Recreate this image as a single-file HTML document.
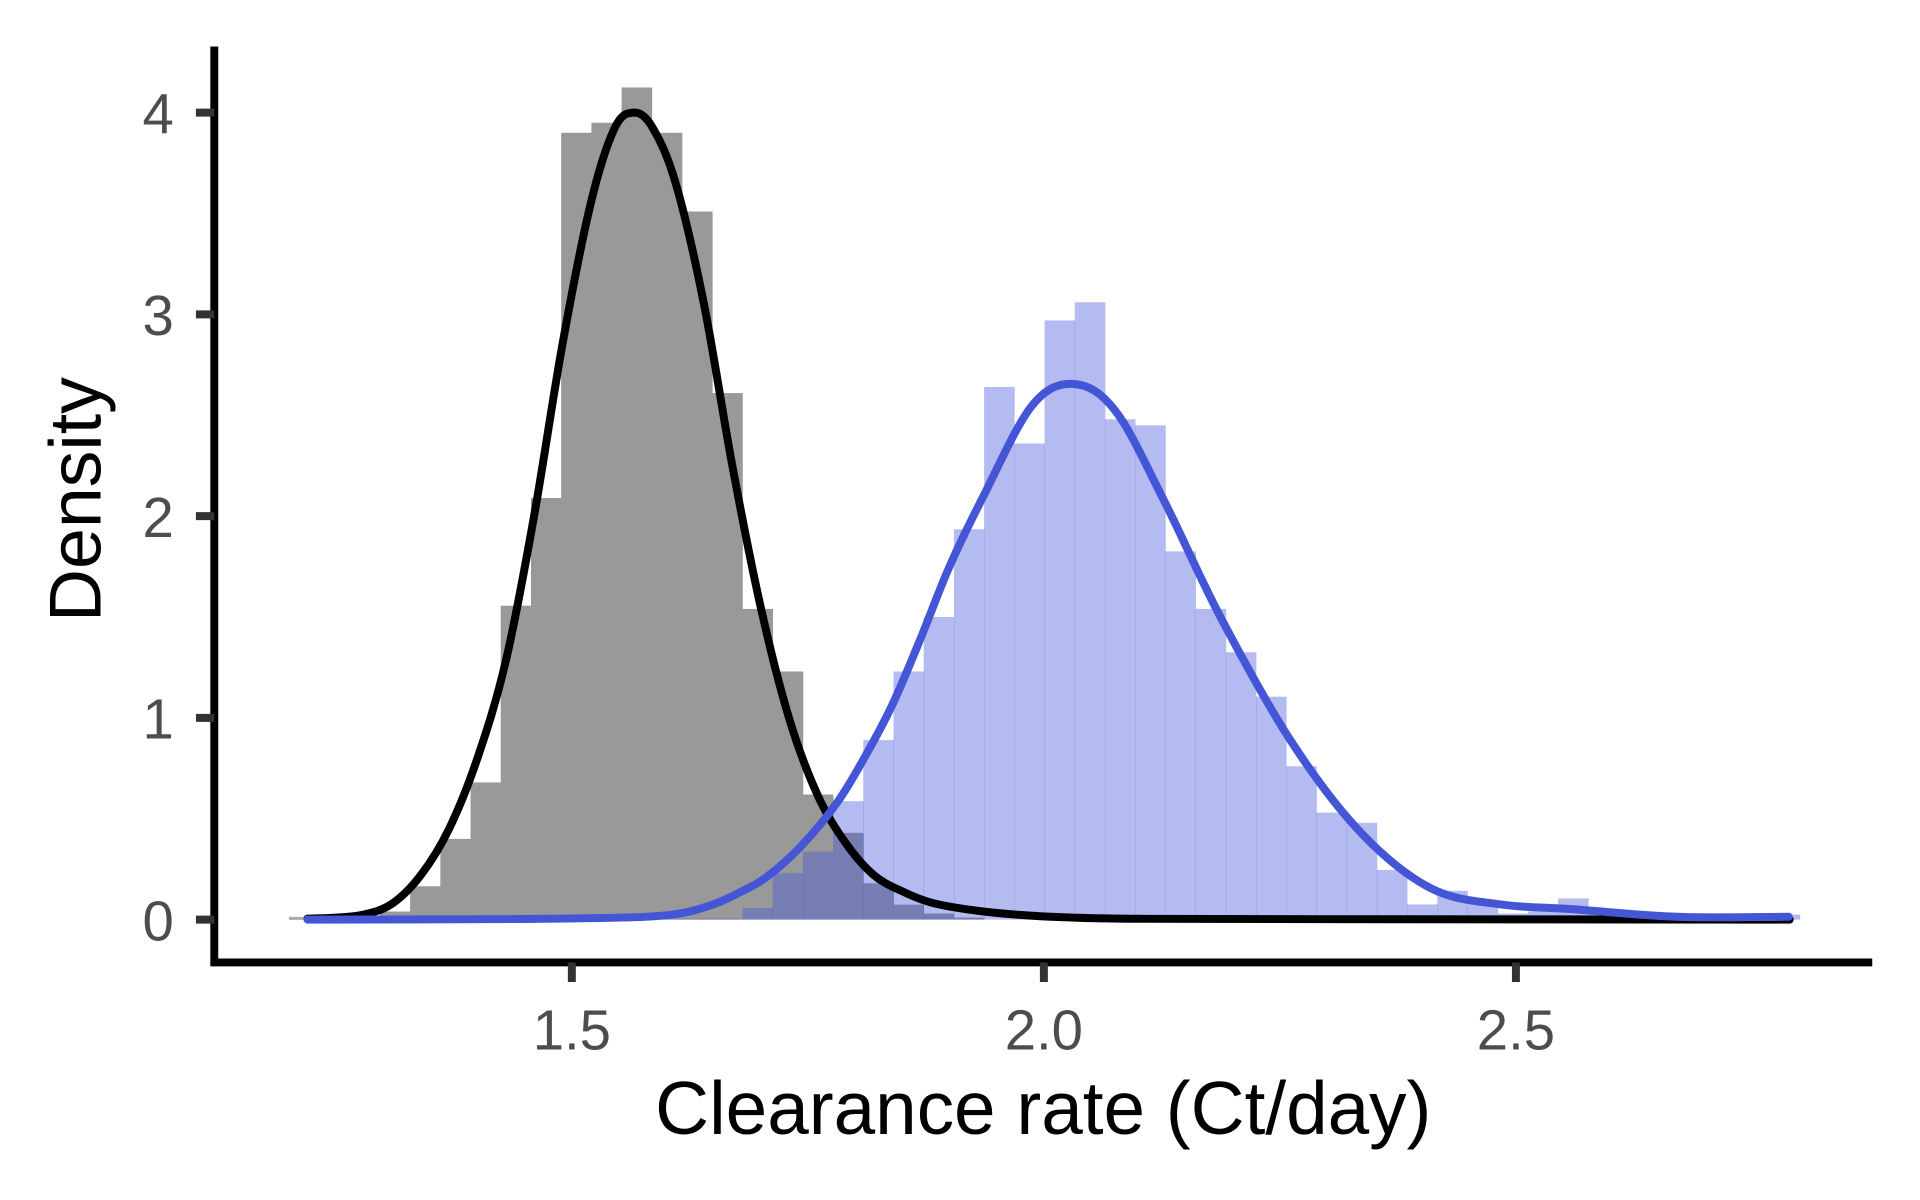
<!DOCTYPE html>
<html><head><meta charset="utf-8">
<style>
html,body{margin:0;padding:0;background:#fff;}
svg{display:block;}
text{font-family:"Liberation Sans",Arial,sans-serif;}
</style></head>
<body>
<svg id="chart" width="1920" height="1200" viewBox="0 0 1568 980" xmlns="http://www.w3.org/2000/svg">
  <line x1="236" y1="750" x2="252" y2="750" stroke="#aaa" stroke-width="2.5"/>
  <g id="bars"></g>
  <g id="curves"></g>
  <g id="axes">
    <line x1="175" y1="38" x2="175" y2="789" stroke="#000" stroke-width="6.5"/>
    <line x1="172" y1="786" x2="1529" y2="786" stroke="#000" stroke-width="6.5"/>
  </g>
  <g id="yticks"></g>
  <g id="xticks"></g>
  <text x="852" y="926" font-size="61" text-anchor="middle" fill="#000">Clearance rate (Ct/day)</text>
  <text x="0" y="0" font-size="60" text-anchor="middle" fill="#000" transform="translate(82,408) rotate(-90)">Density</text>
</svg>
<script>
const binStart = 1.2967;
const binWidth = 0.032;
const grayCounts = [0.04,0.165,0.40,0.68,1.556,2.09,3.90,3.95,4.125,3.90,3.51,2.61,1.54,1.23,0.62,0.43,0.18,0.074,0.03,0.01];
const blueCounts = [0.005,0.005,0.005,0.005,0.005,0.005,0.005,0.005,0.005,0.005,0.005,0.005,0.057,0.23,0.337,0.587,0.89,1.23,1.50,1.935,2.64,2.36,2.97,3.06,2.48,2.45,1.825,1.54,1.325,1.105,0.76,0.53,0.48,0.246,0.075,0.143,0.087,0.03,0.04,0.105,0.03,0.012,0.012,0.012,0.012,0.012,0.025];
const blackCurveX = [1.22,1.25,1.28,1.31,1.34,1.37,1.40,1.43,1.46,1.49,1.52,1.545,1.565,1.585,1.61,1.64,1.67,1.70,1.73,1.76,1.79,1.82,1.85,1.88,1.92,1.97,2.03,2.1,2.3,2.79];
const blackCurveY = [0.005,0.01,0.025,0.08,0.22,0.45,0.8,1.28,2.0,2.85,3.55,3.92,4.0,3.93,3.65,3.05,2.25,1.55,1.0,0.62,0.38,0.22,0.14,0.085,0.05,0.025,0.01,0.004,0.002,0.0];
const blueCurveX = [1.22,1.35,1.45,1.52,1.583,1.62,1.653,1.68,1.706,1.742,1.781,1.812,1.84,1.87,1.90,1.935,1.987,2.0315,2.076,2.128,2.187,2.262,2.336,2.41,2.484,2.559,2.67,2.789];
const blueCurveY = [0.0,0.001,0.003,0.007,0.015,0.035,0.081,0.14,0.21,0.36,0.58,0.82,1.07,1.40,1.75,2.09,2.545,2.655,2.52,2.07,1.50,0.883,0.43,0.155,0.075,0.052,0.014,0.014];
const yTicks = [0,1,2,3,4];
const xTicks = [1.5,2.0,2.5];
const xTickLabels = ["1.5","2.0","2.5"];

const NS = "http://www.w3.org/2000/svg";
function sx(v){ return 467 + (v - 1.5) * 771; }
function sy(v){ return 751 - v * 164.75; }
function mk(tag, attrs){ const e = document.createElementNS(NS, tag); for (const k in attrs) e.setAttribute(k, attrs[k]); return e; }

const bars = document.getElementById('bars');
grayCounts.forEach((h, i) => {
  const x0 = sx(binStart + i * binWidth), x1 = sx(binStart + (i + 1) * binWidth);
  const r = mk('rect', {x: x0, y: sy(h), width: x1 - x0 + 0.3, height: sy(0) - sy(h), fill: '#999999'});
  
  
  bars.appendChild(r);
});
blueCounts.forEach((h, i) => {
  const x0 = sx(binStart + i * binWidth), x1 = sx(binStart + (i + 1) * binWidth);
  const r = mk('rect', {x: x0, y: sy(h), width: x1 - x0 + 0.3, height: sy(0) - sy(h), fill: 'rgb(65,85,220)', 'fill-opacity': 0.4});
  
  
  bars.appendChild(r);
});

function smoothPath(xs, ys){
  const p = xs.map((x, i) => [sx(x), sy(ys[i])]);
  let d = 'M' + p[0][0] + ',' + p[0][1];
  for (let i = 0; i < p.length - 1; i++){
    const p0 = p[Math.max(0, i - 1)], p1 = p[i], p2 = p[i + 1], p3 = p[Math.min(p.length - 1, i + 2)];
    const c1x = p1[0] + (p2[0] - p0[0]) / 6, c1y = p1[1] + (p2[1] - p0[1]) / 6;
    const c2x = p2[0] - (p3[0] - p1[0]) / 6, c2y = p2[1] - (p3[1] - p1[1]) / 6;
    d += ' C' + c1x + ',' + Math.min(c1y, sy(0)) + ' ' + c2x + ',' + Math.min(c2y, sy(0)) + ' ' + p2[0] + ',' + p2[1];
  }
  return d;
}
const curves = document.getElementById('curves');
const bl = mk('path', {d: smoothPath(blackCurveX, blackCurveY), fill: 'none', stroke: '#000', 'stroke-width': 6.5, 'stroke-linecap': 'round', 'stroke-linejoin': 'round'});


curves.appendChild(bl);
const bu = mk('path', {d: smoothPath(blueCurveX, blueCurveY), fill: 'none', stroke: '#4456d6', 'stroke-width': 6.5, 'stroke-linecap': 'round', 'stroke-linejoin': 'round'});


curves.appendChild(bu);

const yt = document.getElementById('yticks');
yTicks.forEach(v => {
  const l = mk('line', {x1: 160, x2: 175, y1: sy(v), y2: sy(v), stroke: '#333', 'stroke-width': 6.5});
  
  
  yt.appendChild(l);
  const t = mk('text', {x: 142, y: sy(v) + 17, 'font-size': 46, 'text-anchor': 'end', fill: '#4d4d4d'});
  t.textContent = String(v);
  
  
  yt.appendChild(t);
});
const xt = document.getElementById('xticks');
xTicks.forEach((v, i) => {
  const l = mk('line', {x1: sx(v), x2: sx(v), y1: 786, y2: 802, stroke: '#333', 'stroke-width': 6.5});
  
  
  xt.appendChild(l);
  const t = mk('text', {x: sx(v), y: 857, 'font-size': 46, 'text-anchor': 'middle', fill: '#4d4d4d'});
  t.textContent = xTickLabels[i];
  
  
  xt.appendChild(t);
});
</script>
</body></html>
